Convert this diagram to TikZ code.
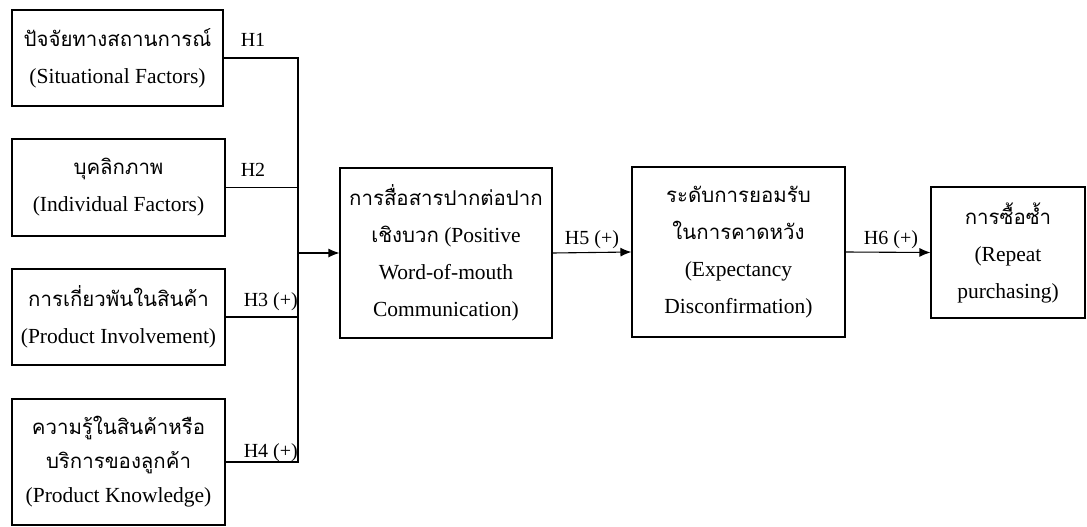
\documentclass[tikz,border=0pt]{standalone}
\usepackage{fontspec}
\setmainfont{Liberation Serif}
\newfontfamily\thaifont[Script=Thai,Scale=0.95]{Loma}
\newcommand\tha[1]{{\thaifont #1}}
\usetikzlibrary{arrows.meta}
\begin{document}
\begin{tikzpicture}[x=1pt,y=-1pt,
  box/.style={draw,line width=1.1pt,align=center,inner sep=0pt,
    font=\fontsize{21.5}{37}\selectfont},
  conn/.style={line width=1.1pt},
  arr/.style={line width=1.1pt,-{Latex[length=11pt,width=9pt]}},
  hlab/.style={font=\fontsize{20}{22}\selectfont,inner sep=0pt}]
\useasboundingbox (0,0) rectangle (1087,527);
\node[box,minimum width=211pt,minimum height=96pt] (b1) at (117.5,58)
  {\tha{ปัจจัยทางสถานการณ์}\\(Situational Factors)};
\node[box,minimum width=213pt,minimum height=97pt] (b2) at (118.5,187.5)
  {\tha{บุคลิกภาพ}\\(Individual Factors)};
\node[box,minimum width=213pt,minimum height=96pt] (b3) at (118.5,317)
  {\tha{การเกี่ยวพันในสินค้า}\\(Product Involvement)};
\node[box,minimum width=213pt,minimum height=126pt,
  font=\fontsize{21.5}{34}\selectfont] (b4) at (118.5,462)
  {\tha{ความรู้ในสินค้าหรือ}\\\tha{บริการของลูกค้า}\\(Product Knowledge)};
\node[box,minimum width=212pt,minimum height=170pt] (wom) at (446,253)
  {\tha{การสื่อสารปากต่อปาก}\\\tha{เชิงบวก} (Positive\\Word-of-mouth\\Communication)};
\node[box,minimum width=213pt,minimum height=170pt] (ed) at (738.5,252)
  {\tha{ระดับการยอมรับ}\\\tha{ในการคาดหวัง}\\(Expectancy\\Disconfirmation)};
\node[box,minimum width=154pt,minimum height=131pt] (rp) at (1008,252.5)
  {\tha{การซื้อซ้ำ}\\(Repeat\\purchasing)};
\coordinate (j) at (298,253);
\draw[conn] (b1.east) -- (b1.east -| j) -- (b4.east -| j) -- (b4.east);
\draw[conn] (b2.east) -- (b2.east -| j);
\draw[conn] (b3.east) -- (b3.east -| j);
\draw[arr] (j) -- (wom.west);
\draw[arr] (wom.east) -- (ed.west);
\draw[arr] (ed.east) -- (rp.west);
\node[hlab] (h1) at (253,40) {H1};
\node[hlab] (h2) at (253,170) {H2};
\node[hlab,anchor=east] (h3) at (298,302) {H3 (+)};
\node[hlab,anchor=east] (h4) at (298,453) {H4 (+)};
\node[hlab] (h5) at (592,240) {H5 (+)};
\node[hlab] (h6) at (891,240) {H6 (+)};
\end{tikzpicture}
\end{document}
